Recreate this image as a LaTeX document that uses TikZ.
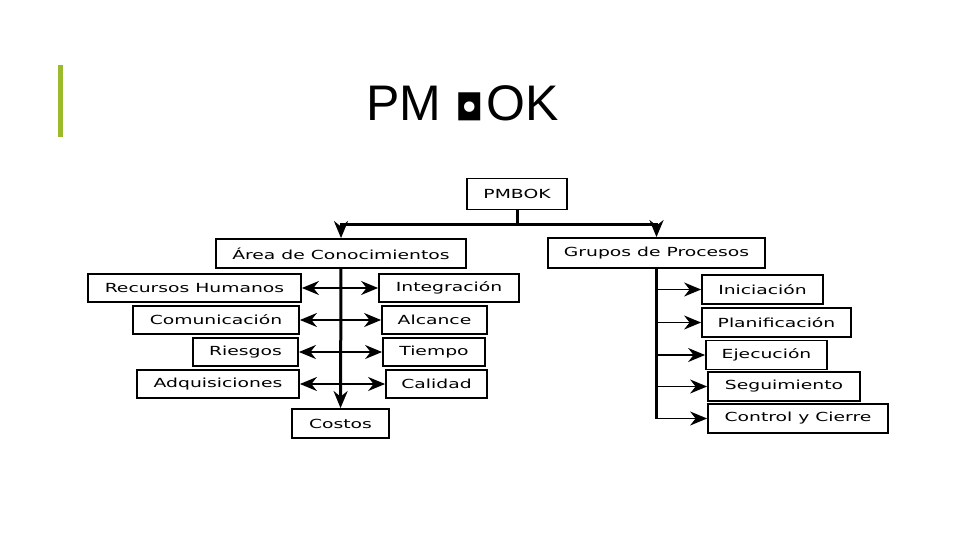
\documentclass[tikz,border=0pt]{standalone}
\usepackage{fontspec}
\setmainfont{Liberation Sans}
\newfontfamily\diagfont[FakeStretch=1.5]{DejaVu Sans}
\newfontfamily\symfont{DejaVu Sans}
\usetikzlibrary{positioning, arrows.meta, calc}
\definecolor{barGreen}{RGB}{155,187,45}

\begin{document}
\begin{tikzpicture}[
    x=1pt, y=-1pt,
    box/.style={rectangle, draw=black, line width=1.8pt, fill=white, minimum height=28pt, inner sep=0pt, font=\diagfont\fontsize{12.5}{14}\selectfont},
    trunk/.style={line width=3pt, draw=black},
    branch/.style={line width=1.6pt, draw=black},
    tip/.style={-{Stealth[length=17pt, width=14pt]}},
    dbl/.style={{Stealth[length=17pt, width=14pt]}-{Stealth[length=17pt, width=14pt]}, line width=1.6pt}
]
    \useasboundingbox (0,0) rectangle (960,540);

    % title
    \fill[barGreen] (57.5,65) rectangle (62.5,137);
    \node[anchor=base west, font=\fontsize{50}{60}\selectfont, inner sep=0pt] (title) at (366,121)
        {PM {\symfont\fontsize{36}{40}\selectfont ◘}\kern3pt OK};

    % top level
    \node[box, minimum width=100pt, minimum height=31pt] (pmbok) at (517,194) {PMBOK};
    \node[box, minimum width=250pt, minimum height=29pt] (area) at (341,253.5) {Área de Conocimientos};
    \node[box, minimum width=217pt, minimum height=30pt] (grupos) at (656.5,253) {Grupos de Procesos};

    % knowledge areas
    \node[box, minimum width=213pt] (recursos) at (194.5,288) {Recursos Humanos};
    \node[box, minimum width=140pt] (integ) at (449,288) {Integración};
    \node[box, minimum width=166pt] (comun) at (216,320) {Comunicación};
    \node[box, minimum width=105pt] (alcance) at (434.5,320) {Alcance};
    \node[box, minimum width=105pt] (riesgos) at (245.5,352) {Riesgos};
    \node[box, minimum width=102pt] (tiempo) at (434,352) {Tiempo};
    \node[box, minimum width=162pt] (adqui) at (218,384) {Adquisiciones};
    \node[box, minimum width=101pt] (calidad) at (436.5,384) {Calidad};
    \node[box, minimum width=97pt, minimum height=29pt] (costos) at (340.5,423.5) {Costos};

    % process groups
    \node[box, minimum width=121pt, minimum height=29pt] (inic) at (762.5,289.5) {Iniciación};
    \node[box, minimum width=149pt, minimum height=29pt] (plan) at (776.5,322.5) {Planificación};
    \node[box, minimum width=121pt, minimum height=29pt] (ejec) at (766.5,355) {Ejecución};
    \node[box, minimum width=152pt, minimum height=29pt] (segui) at (784,386.5) {Seguimiento};
    \node[box, minimum width=180pt, minimum height=29pt] (ctrl) at (798,418.5) {Control y Cierre};

    % connectors
    \coordinate (split) at (517,224);
    \draw[trunk] (pmbok) -- (split);
    \draw[trunk, tip] (split) -| (area);
    \draw[trunk, tip] (split) -| (grupos);

    \draw[trunk, tip] (area) -- (costos);
    \draw[dbl] (recursos) -- (integ);
    \draw[dbl] (comun) -- (alcance);
    \draw[dbl] (riesgos) -- (tiempo);
    \draw[dbl] (adqui) -- (calidad);

    \draw[trunk] (grupos.south) -- (grupos.south |- ctrl.west);
    \foreach \g in {inic, plan, ejec, segui, ctrl}
        \draw[branch, tip] (grupos.south |- \g.west) -- (\g.west);
\end{tikzpicture}
\end{document}
